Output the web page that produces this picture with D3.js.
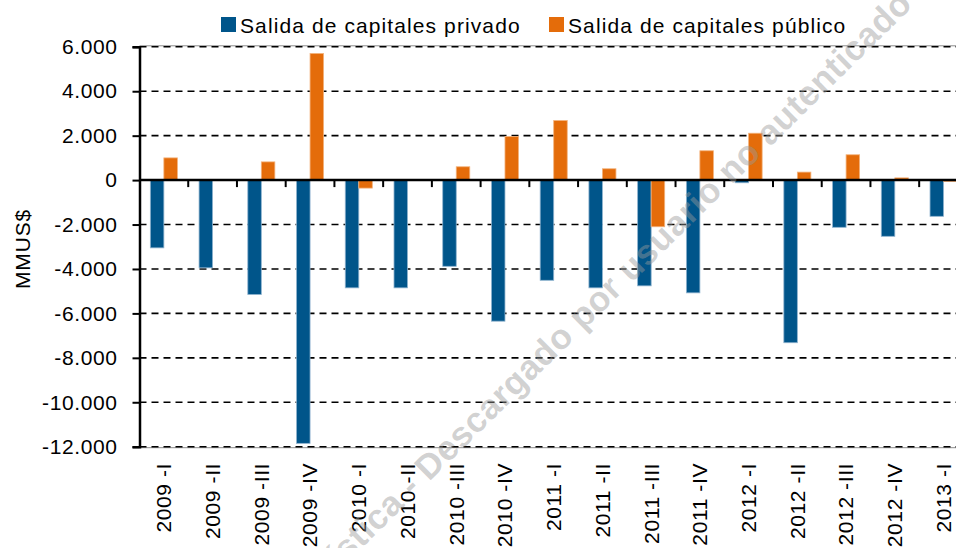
<!DOCTYPE html>
<html>
<head>
<meta charset="utf-8">
<script src="https://cdn.jsdelivr.net/npm/d3@7"></script>
<style>
  body { margin: 0; background: #fff; }
  svg { display: block; font-family: "Liberation Sans", Arial, sans-serif; }
</style>
</head>
<body>
<svg class="chart"></svg>
<script>
// trimestres
var categorias = ["2009 -I", "2009 -II", "2009 -III", "2009 -IV",
                  "2010 -I", "2010 -II", "2010 -III", "2010 -IV",
                  "2011 -I", "2011 -II", "2011 -III", "2011 -IV",
                  "2012 -I", "2012 -II", "2012 -III", "2012 -IV",
                  "2013 -I"];
var series = ["Salida de capitales privado", "Salida de capitales público"];
var privado = [-3050, -3950, -5150, -11850, -4850, -4850, -3880, -6350,
               -4510, -4850, -4760, -5075, -120, -7320, -2125, -2530, -1630];
var publico = [1000, 30, 820, 5700, -360, 30, 600, 1960,
               2680, 510, -2100, 1320, 2110, 360, 1140, 100, -60];
var yTicks = [-12000, -10000, -8000, -6000, -4000, -2000, 0, 2000, 4000, 6000];
var colores = ["#00558a", "#e46c0a"];
var bordes = ["#8fb3cf", "#f3b27c"];

var width = 956, height = 548;
var plotLeft = 139.5, step = 48.73;
var plotRight = plotLeft + step * categorias.length;
var plotTop = 46.8, plotBottom = 446.7;

var svg = d3.select(".chart").attr("width", width).attr("height", height);

var x0 = d3.scaleBand()
    .domain(categorias)
    .range([plotLeft, plotRight])
    .paddingInner(0.445)
    .paddingOuter(0.2225);

var x1 = d3.scaleBand()
    .domain([0, 1])
    .range([0, x0.bandwidth()]);

var y = d3.scaleLinear()
    .domain([-12000, 6000])
    .range([plotBottom, plotTop]);

var loc = d3.formatLocale({decimal: ",", thousands: ".", grouping: [3], currency: ["$", ""], minus: "-"});
var fmt = loc.format(",d");

// lineas de grilla
svg.append("g").selectAll("line")
    .data([-12000, 6000])
    .enter().append("line")
      .attr("x1", plotLeft).attr("x2", width)
      .attr("y1", function(d){ return y(d) + (d > 0 ? -1 : 1); })
      .attr("y2", function(d){ return y(d) + (d > 0 ? -1 : 1); })
      .attr("stroke", "#8c8c8c").attr("stroke-width", 1);

svg.append("g").selectAll("line")
    .data(yTicks.filter(function(d){ return d !== 0; }))
    .enter().append("line")
      .attr("x1", plotLeft).attr("x2", width)
      .attr("y1", function(d){ return y(d); })
      .attr("y2", function(d){ return y(d); })
      .attr("stroke", "#000")
      .attr("stroke-width", 1.6)
      .attr("stroke-dasharray", "7,5");

// barras
var datos = categorias.map(function(c, i){ return {cat: c, vals: [privado[i], publico[i]]}; });

svg.append("g").selectAll("g")
    .data(datos)
    .enter().append("g")
      .attr("transform", function(d){ return "translate(" + x0(d.cat) + ",0)"; })
    .selectAll("rect")
    .data(function(d){ return d.vals.map(function(v, k){ return {k: k, v: v}; }); })
    .enter().append("rect")
      .attr("x", function(d){ return x1(d.k); })
      .attr("width", x1.bandwidth())
      .attr("y", function(d){ return y(Math.max(0, d.v)); })
      .attr("height", function(d){ return Math.abs(y(d.v) - y(0)); })
      .attr("fill", function(d){ return colores[d.k]; })
      .attr("stroke", function(d){ return bordes[d.k]; })
      .attr("stroke-width", 0.8);

// eje y
var yAxis = svg.append("g")
    .attr("transform", "translate(" + plotLeft + ",0)")
    .call(d3.axisLeft(y).tickValues(yTicks).tickFormat(fmt).tickSize(7).tickPadding(15));
yAxis.select(".domain").attr("stroke", "#000").attr("stroke-width", 2.5);
yAxis.selectAll(".tick line").attr("stroke", "#000").attr("stroke-width", 2);
yAxis.selectAll(".tick text")
    .attr("font-size", 21)
    .attr("letter-spacing", 0.6)
    .attr("fill", "#000");

// linea cero con marcas
svg.append("line")
    .attr("x1", plotLeft).attr("x2", width)
    .attr("y1", y(0)).attr("y2", y(0))
    .attr("stroke", "#000").attr("stroke-width", 2.5);

svg.append("g").selectAll("line")
    .data(categorias.slice(1))
    .enter().append("line")
      .attr("x1", function(d){ return x0(d) - x0.step() * x0.paddingOuter(); })
      .attr("x2", function(d){ return x0(d) - x0.step() * x0.paddingOuter(); })
      .attr("y1", y(0)).attr("y2", y(0) + 7)
      .attr("stroke", "#000").attr("stroke-width", 2);

// etiquetas eje x
var xAxis = svg.append("g")
    .attr("transform", "translate(0," + 463 + ")")
    .call(d3.axisBottom(x0).tickSize(0).tickPadding(0));
xAxis.select(".domain").remove();
xAxis.selectAll(".tick text")
    .attr("font-size", 21)
    .attr("letter-spacing", 0.6)
    .attr("fill", "#000")
    .attr("text-anchor", "end")
    .attr("transform", "rotate(-90)")
    .attr("x", 0)
    .attr("y", 0)
    .attr("dy", "0.35em");

// titulo eje y
svg.append("text")
    .attr("transform", "translate(30,249) rotate(-90)")
    .attr("text-anchor", "middle")
    .attr("font-size", 21)
    .attr("letter-spacing", 0.8)
    .text("MMUS$");

// leyenda
var leyX = [221, 549];
var ley = svg.append("g").selectAll("g")
    .data(series)
    .enter().append("g")
      .attr("transform", function(d, i){ return "translate(" + leyX[i] + ",17)"; });
ley.append("rect")
    .attr("width", 15).attr("height", 15)
    .attr("fill", function(d, i){ return colores[i]; });
ley.append("text")
    .attr("x", 19).attr("y", 15.5)
    .attr("font-size", 21)
    .attr("letter-spacing", 1.1)
    .text(function(d){ return d; });

// marca de agua
svg.append("text")
    .attr("transform", "translate(592,322) rotate(-44.5)")
    .attr("text-anchor", "middle")
    .attr("font-size", 35)
    .attr("font-weight", "bold")
    .attr("letter-spacing", 0.5)
    .attr("fill", "#9a9a9a")
    .attr("fill-opacity", 0.45)
    .text("Estadística - Descargado por usuario no autenticado");
</script>
</body>
</html>
